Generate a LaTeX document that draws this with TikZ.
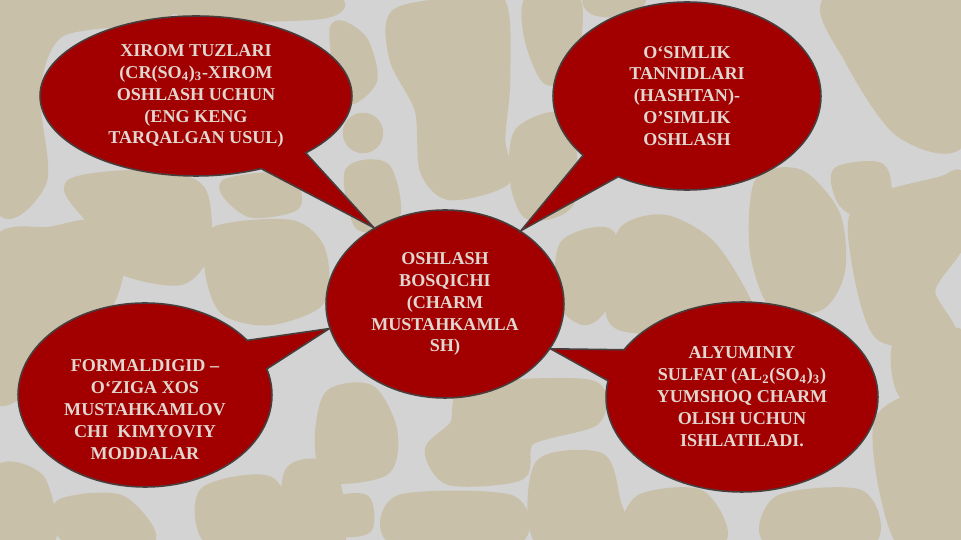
\documentclass[tikz,border=0pt]{standalone}
\usepackage{fontspec}
\setmainfont{Liberation Serif}
\usepackage{tikz}
\usetikzlibrary{shapes,shapes.callouts}
\definecolor{streakgrey}{RGB}{211,211,211}
\definecolor{leathertan}{RGB}{201,192,170}
\definecolor{bubblered}{RGB}{162,0,0}
\definecolor{rimgrey}{RGB}{72,62,62}
\definecolor{labelgrey}{RGB}{224,216,208}
\tikzstyle{label} = [text=labelgrey, align=center,
    font=\bfseries\fontsize{10.3}{12.5}\selectfont]
\tikzstyle{hub} = [label, ellipse, draw=rimgrey, line width=0.9pt,
    fill=bubblered, inner sep=0pt]
\tikzstyle{bubble} = [hub, ellipse callout, callout pointer arc=20]
\tikzstyle{blob} = [fill=leathertan, draw=leathertan, line width=6pt, line join=round]

\begin{document}
\begin{tikzpicture}[x=0.02cm, y=-0.02cm]
    % background
    \fill[streakgrey] (0,0) rectangle (961,540);
    \useasboundingbox (0,0) rectangle (961,540);
    \path[blob] plot[smooth cycle] coordinates {(0,0) (170,0) (150,18) (60,32) (35,90) (42,180) (0,205)};
    \path[blob] plot[smooth cycle] coordinates {(0,240) (50,232) (95,225) (120,252) (110,300) (80,330) (20,340) (0,330)};
    \path[blob] plot[smooth cycle] coordinates {(70,185) (150,175) (200,190) (205,250) (180,280) (120,268) (100,230)};
    \path[blob] plot[smooth cycle] coordinates {(225,185) (285,178) (295,205) (250,212)};
    \path[blob] plot[smooth cycle] coordinates {(215,232) (290,225) (320,250) (320,300) (270,320) (225,310) (210,270)};
    \path[blob] plot[smooth cycle] coordinates {(395,15) (450,3) (500,2) (505,80) (500,140) (505,180) (450,195) (425,170) (420,110) (395,60)};
    \path[blob] (363,133) circle (15);
    \path[blob] plot[smooth cycle] coordinates {(335,28) (362,40) (372,80) (345,98)};
    \path[blob] plot[smooth cycle] coordinates {(350,172) (385,168) (395,215) (360,225)};
    \path[blob] plot[smooth cycle] coordinates {(530,0) (575,0) (572,60) (548,80) (530,40)};
    \path[blob] plot[smooth cycle] coordinates {(520,132) (565,120) (570,200) (530,215) (515,180)};
    \path[blob] plot[smooth cycle] coordinates {(625,230) (665,220) (710,245) (745,300) (745,325) (620,325) (615,270)};
    \path[blob] plot[smooth cycle] coordinates {(760,182) (800,175) (835,215) (840,270) (820,305) (775,305) (755,250)};
    \path[blob] plot[smooth cycle] coordinates {(838,172) (880,168) (885,200) (860,212) (842,200)};
    \path[blob] plot[smooth cycle] coordinates {(862,205) (940,182) (961,178) (961,240) (930,290) (950,335) (880,335) (855,250)};
    \path[blob] plot[smooth cycle] coordinates {(830,0) (961,0) (961,140) (900,132) (850,60)};
    \path[blob] plot[smooth cycle] coordinates {(565,245) (610,235) (605,300) (585,320) (562,300)};
    \path[blob] plot[smooth cycle] coordinates {(0,470) (40,480) (50,540) (0,540)};
    \path[blob] plot[smooth cycle] coordinates {(60,505) (120,500) (150,540) (70,540)};
    \path[blob] plot[smooth cycle] coordinates {(205,492) (270,482) (285,540) (210,540)};
    \path[blob] plot[smooth cycle] coordinates {(290,472) (330,470) (340,540) (290,540)};
    \path[blob] plot[smooth cycle] coordinates {(470,390) (590,385) (595,420) (530,440) (520,475) (450,480) (430,450) (455,425)};
    \path[blob] plot[smooth cycle] coordinates {(330,395) (370,390) (392,430) (385,470) (330,477) (320,440)};
    \path[blob] plot[smooth cycle] coordinates {(400,500) (510,500) (515,540) (395,540)};
    \path[blob] plot[smooth cycle] coordinates {(540,465) (600,458) (615,500) (620,540) (540,540)};
    \path[blob] plot[smooth cycle] coordinates {(335,503) (365,500) (367,528) (338,530)};
    \path[blob] plot[smooth cycle] coordinates {(880,420) (961,400) (961,540) (900,540)};
    \path[blob] plot[smooth cycle] coordinates {(900,340) (961,335) (961,390) (905,395)};
    \path[blob] plot[smooth cycle] coordinates {(0,345) (30,338) (32,380) (0,400)};
    \path[blob] plot[smooth cycle] coordinates {(640,500) (700,495) (720,540) (630,540)};
    \path[blob] plot[smooth cycle] coordinates {(780,500) (860,495) (870,540) (770,540)};
    \path[blob] plot[smooth cycle] coordinates {(180,0) (330,0) (320,14) (200,16)};
    \path[blob] plot[smooth cycle] coordinates {(590,0) (640,0) (620,12) (595,10)};

    % Place nodes
    \node [hub, minimum width=4.76cm, minimum height=3.76cm] (tanning) at (445,304)
        {OSHLASH\\BOSQICHI\\(CHARM\\MUSTAHKAMLA\\SH)};
    \node [bubble, minimum width=6.24cm, minimum height=3.2cm,
        callout absolute pointer={(tanning.133)}] (chrome) at (196,96)
        {XIROM TUZLARI\\(CR(SO\textsubscript{4})\textsubscript{3}-XIROM\\OSHLASH UCHUN\\(ENG KENG\\TARQALGAN USUL)};
    \node [bubble, minimum width=5.36cm, minimum height=3.76cm,
        callout absolute pointer={(tanning.44)}] (plant) at (687,96)
        {O‘SIMLIK\\TANNIDLARI\\(HASHTAN)-\\O’SIMLIK\\OSHLASH};
    \node [bubble, minimum width=5.08cm, minimum height=3.68cm,
        callout absolute pointer={(tanning.192)}] (formal) at (145,395) {};
    \node [label] (formaltext) at (145,410)
        {FORMALDIGID –\\O‘ZIGA XOS\\MUSTAHKAMLOV\\CHI~ KIMYOVIY\\MODDALAR};
    \node [bubble, minimum width=5.44cm, minimum height=3.8cm,
        callout absolute pointer={(tanning.-23)}] (alum) at (742,397)
        {ALYUMINIY\\SULFAT (AL\textsubscript{2}(SO\textsubscript{4})\textsubscript{3})\\YUMSHOQ CHARM\\OLISH UCHUN\\ISHLATILADI.};

\end{tikzpicture}
\end{document}
